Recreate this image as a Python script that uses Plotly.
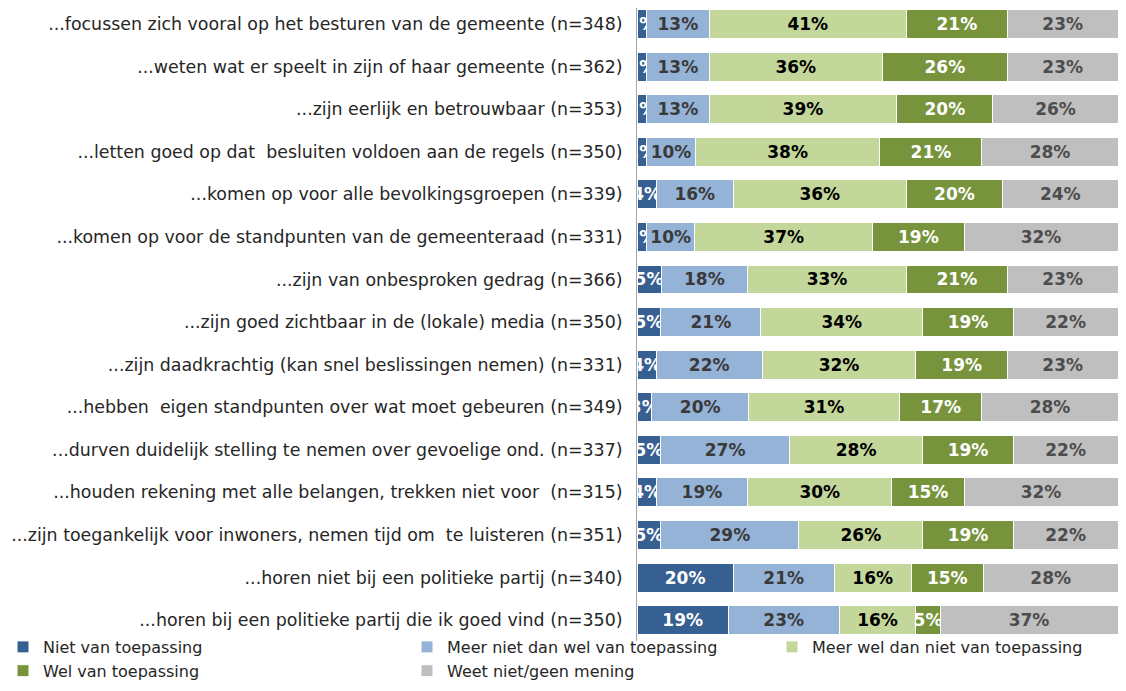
import plotly.graph_objects as go

categories = [
    "...focussen zich vooral op het besturen van de gemeente (n=348)",
    "...weten wat er speelt in zijn of haar gemeente (n=362)",
    "...zijn eerlijk en betrouwbaar (n=353)",
    "...letten goed op dat  besluiten voldoen aan de regels (n=350)",
    "...komen op voor alle bevolkingsgroepen (n=339)",
    "...komen op voor de standpunten van de gemeenteraad (n=331)",
    "...zijn van onbesproken gedrag (n=366)",
    "...zijn goed zichtbaar in de (lokale) media (n=350)",
    "...zijn daadkrachtig (kan snel beslissingen nemen) (n=331)",
    "...hebben  eigen standpunten over wat moet gebeuren (n=349)",
    "...durven duidelijk stelling te nemen over gevoelige ond. (n=337)",
    "...houden rekening met alle belangen, trekken niet voor  (n=315)",
    "...zijn toegankelijk voor inwoners, nemen tijd om  te luisteren (n=351)",
    "...horen niet bij een politieke partij (n=340)",
    "...horen bij een politieke partij die ik goed vind (n=350)",
]

niet = [2, 2, 2, 2, 4, 2, 5, 5, 4, 3, 5, 4, 5, 20, 19]
meer_niet = [13, 13, 13, 10, 16, 10, 18, 21, 22, 20, 27, 19, 29, 21, 23]
meer_wel = [41, 36, 39, 38, 36, 37, 33, 34, 32, 31, 28, 30, 26, 16, 16]
wel = [21, 26, 20, 21, 20, 19, 21, 19, 19, 17, 19, 15, 19, 15, 5]
weet_niet = [23, 23, 26, 28, 24, 32, 23, 22, 23, 28, 22, 32, 22, 28, 37]

series = [
    ("Niet van toepassing", niet, "#376092", "white", "legend"),
    ("Meer niet dan wel van toepassing", meer_niet, "#95B3D7", "#3A3A3A", "legend2"),
    ("Meer wel dan niet van toepassing", meer_wel, "#C4D79B", "#000000", "legend3"),
    ("Wel van toepassing", wel, "#77933C", "white", "legend"),
    ("Weet niet/geen mening", weet_niet, "#BFBFBF", "#4D4D4D", "legend2"),
]

fig = go.Figure()
for name, vals, color, tcolor, leg in series:
    fig.add_trace(go.Bar(
        name=name,
        y=categories,
        x=vals,
        orientation="h",
        marker=dict(color=color, line=dict(color="white", width=1)),
        text=[f"{v}%" for v in vals],
        textposition="inside",
        insidetextanchor="middle",
        textangle=0,
        constraintext="none",
        cliponaxis=False,
        textfont=dict(family="DejaVu Sans", size=17, color=tcolor, weight="bold"),
        legend=leg,
        hoverinfo="skip",
    ))

# the page body adds an 8px offset; figure sized to fit the visible window
W, H = 1110, 675
L, R, T, B = 629, 0, 0, 42
PW = W - L - R
PH = H - T - B

legend_common = dict(
    orientation="v",
    traceorder="normal",
    font=dict(family="DejaVu Sans", size=16, color="#262626"),
    bgcolor="rgba(0,0,0,0)",
    yanchor="top",
    xanchor="left",
    xref="paper", yref="paper",
    tracegroupgap=0,
    itemwidth=30,
    y=(PH - 622) / PH,
)

fig.update_layout(
    width=W,
    height=H,
    barmode="stack",
    barnorm="percent",
    bargap=0.32,
    margin=dict(l=L, r=R, t=T, b=B, autoexpand=False),
    plot_bgcolor="white",
    paper_bgcolor="white",
    uniformtext=dict(minsize=17, mode="show"),
    xaxis=dict(range=[0, 100], showgrid=False, showticklabels=False, zeroline=False,
               showline=False, automargin=False),
    yaxis=dict(range=[14.49, -0.376], autorange=False, showgrid=False, showline=True,
               linecolor="#A6A6A6", linewidth=1, ticks="", ticklabelstandoff=10,
               automargin=False,
               tickfont=dict(family="DejaVu Sans", size=17.4, color="#262626")),
    legend=dict(x=(-5 - L) / PW, **legend_common),
    legend2=dict(x=(399 - L) / PW, **legend_common),
    legend3=dict(x=(764 - L) / PW, **legend_common),
)

fig.write_html("out.html")
